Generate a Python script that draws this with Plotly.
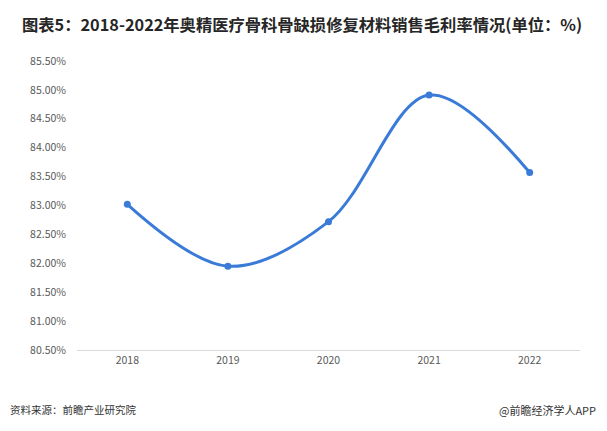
import plotly.graph_objects as go

years = ["2018", "2019", "2020", "2021", "2022"]
margin_rate = [83.02, 81.95, 82.72, 84.91, 83.57]
y_ticks = [80.5, 81.0, 81.5, 82.0, 82.5, 83.0, 83.5, 84.0, 84.5, 85.0, 85.5]
y_tick_text = [f"{v:.2f}%" for v in y_ticks]

fig = go.Figure()
fig.add_trace(go.Scatter(
    x=years, y=margin_rate, mode="lines+markers",
    line=dict(color="#3a7bd8", width=3, shape="spline", smoothing=1.0),
    marker=dict(color="#3a7bd8", size=7),
    showlegend=False, cliponaxis=False,
))

fig.update_layout(
    width=607, height=431,
    margin=dict(l=69, r=35, t=53, b=89),
    paper_bgcolor="white", plot_bgcolor="white",
    font=dict(family="Noto Sans CJK SC", color="#595959"),
    title=dict(
        text="<b>图表5：2018-2022年奥精医疗骨科骨缺损修复材料销售毛利率情况(单位：%)</b>",
        x=0.0231, xanchor="left", xref="container",
        y=0.9606, yanchor="middle", yref="container",
        font=dict(size=16.3, color="#262626", family="Noto Sans CJK SC"),
    ),
    xaxis=dict(
        type="category", showgrid=False, showline=True, linecolor="#d9d9d9",
        linewidth=1, ticks="", tickfont=dict(size=10.5, color="#595959"),
        range=[-0.5, 4.5],
    ),
    yaxis=dict(
        range=[80.5, 85.5], tickvals=y_ticks, ticktext=y_tick_text,
        showgrid=False, zeroline=False, showline=False,
        tickfont=dict(size=10.5, color="#595959"), ticklabelstandoff=10,
    ),
)

fig.add_annotation(text="资料来源：前瞻产业研究院", xref="paper", yref="paper",
                   x=-0.1372, y=-0.2076, xanchor="left", yanchor="middle",
                   showarrow=False, font=dict(size=10.5, color="#333333"))
fig.add_annotation(text="@前瞻经济学人APP", xref="paper", yref="paper",
                   x=1.0358, y=-0.2076, xanchor="right", yanchor="middle",
                   showarrow=False, font=dict(size=11, color="#333333"))

fig.write_html("out.html")
